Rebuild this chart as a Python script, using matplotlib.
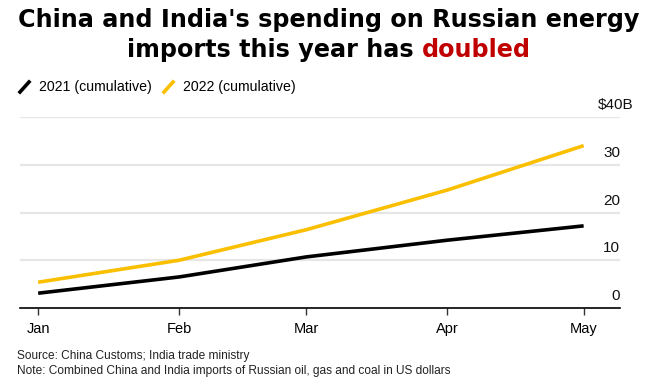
import numpy as np
import matplotlib
matplotlib.use("Agg")
import matplotlib.pyplot as plt
from matplotlib.lines import Line2D

# Данные (млрд долларов, накопительно)
months = np.array(["2022-01-01", "2022-02-01", "2022-03-01", "2022-04-01", "2022-05-01"], dtype="datetime64[D]")
month_labels = ["Jan", "Feb", "Mar", "Apr", "May"]
spend_2021 = [3.1, 6.5, 10.7, 14.2, 17.2]
spend_2022 = [5.4, 10.0, 16.4, 24.7, 34.0]
y_ticks = [0, 10, 20, 30, 40]
y_tick_labels = ["0", "10", "20", "30", "$40B"]

black = "#000000"
yellow = "#f9bf00"
red = "#c00000"
grid_color = "#e6e6e6"

plt.rcParams["font.family"] = ["Liberation Sans", "DejaVu Sans"]

fig = plt.figure(figsize=(6.58, 3.91), dpi=100)
ax = fig.add_axes([20 / 658, 83 / 391, 600 / 658, 191 / 391])

ax.plot(months, spend_2021, color=black, lw=2.6, solid_capstyle="butt", zorder=3)
ax.plot(months, spend_2022, color=yellow, lw=2.6, solid_capstyle="butt", zorder=3)

ax.set_xlim(months[0] - np.timedelta64(4, "D"), months[-1] + np.timedelta64(8, "D"))
ax.set_ylim(0, 40)

# сетка
for v in y_ticks[1:]:
    ax.axhline(v, color=grid_color, lw=1.6, zorder=1)

# подписи справа, над линиями сетки ("$40B" выступает за край)
ax.set_yticks([])
for v, lab in zip(y_ticks, y_tick_labels):
    dx = 9.5 if lab.startswith("$") else 0
    ax.annotate(lab, xy=(1.0, v), xycoords=("axes fraction", "data"),
                xytext=(dx, 3.5), textcoords="offset points",
                ha="right", va="bottom", fontsize=11, color="#111111")

ax.set_xticks(months)
ax.set_xticklabels(month_labels, fontsize=10.5)
ax.tick_params(axis="x", length=5, width=1, color="#333333", pad=5)

for s in ["top", "right", "left"]:
    ax.spines[s].set_visible(False)
ax.spines["bottom"].set_color(black)
ax.spines["bottom"].set_linewidth(1.2)

# заголовок
title_kw = dict(fontsize=17.2, fontweight="bold", family="DejaVu Sans")
fig.text(0.5, 1 - 20 / 391, "China and India's spending on Russian energy",
         ha="center", va="center", **title_kw)
t1 = fig.text(0.5, 1 - 50 / 391, "imports this year has ", ha="left", va="center", **title_kw)
t2 = fig.text(0.5, 1 - 50 / 391, "doubled", ha="left", va="center", color=red, **title_kw)
fig.canvas.draw()
r = fig.canvas.get_renderer()
w1 = t1.get_window_extent(r).width
w2 = t2.get_window_extent(r).width
x0 = (fig.bbox.width - (w1 + w2)) / 2
t1.set_x(x0 / fig.bbox.width)
t2.set_x((x0 + w1) / fig.bbox.width)

# легенда
ly = 1 - 87 / 391
for x, c, lab in [(20, black, "2021 (cumulative)"), (164, yellow, "2022 (cumulative)")]:
    fig.add_artist(Line2D([x / 658, (x + 9) / 658], [ly - 5 / 391, ly + 5 / 391],
                          color=c, lw=2.6, transform=fig.transFigure))
    fig.text((x + 19) / 658, ly, lab, ha="left", va="center", fontsize=10.2)

# источник
fig.text(17 / 658, 1 - 356 / 391, "Source: China Customs; India trade ministry",
         ha="left", va="center", fontsize=8.6, color="#222222")
fig.text(17 / 658, 1 - 371 / 391, "Note: Combined China and India imports of Russian oil, gas and coal in US dollars",
         ha="left", va="center", fontsize=8.6, color="#222222")

fig.savefig("out.png", dpi=100)
